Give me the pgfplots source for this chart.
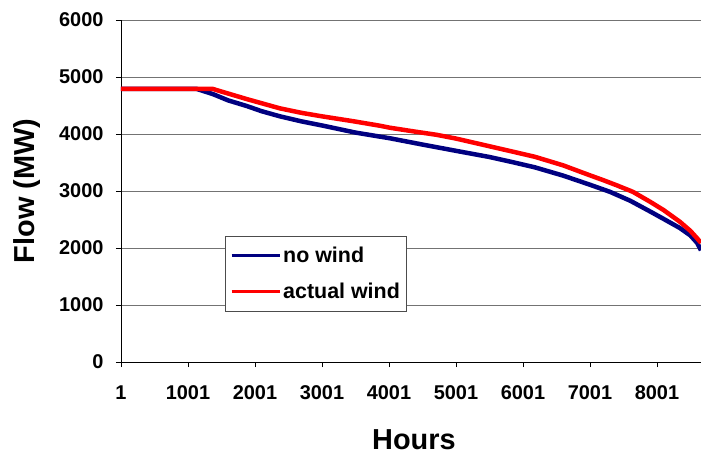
\documentclass[border=0pt]{standalone}
\usepackage{fontspec}
\setmainfont{Liberation Sans}
\usepackage{pgfplots}
\pgfplotsset{compat=1.18}
\definecolor{nowind}{RGB}{0,0,128}
\definecolor{actwind}{RGB}{255,0,0}
\begin{document}
\begin{tikzpicture}
\useasboundingbox (-121bp,-95bp) rectangle (580bp,362bp);
\begin{axis}[
  scale only axis,
  width=580bp, height=342bp,
  xmin=1, xmax=8658, ymin=0, ymax=6000,
  axis x line*=bottom, axis y line*=left,
  axis line style={black, line width=0.9bp},
  xtick={1,1001,2001,3001,4001,5001,6001,7001,8001},
  ytick={0,1000,...,6000},
  tick align=outside, major tick length=5bp,
  tick style={black, line width=0.8bp},
  ymajorgrids, grid style={black!55, line width=0.8bp},
  /pgf/number format/1000 sep={},
  /pgf/number format/assume math mode=true,
  ticklabel style={font=\fontsize{20}{22}\selectfont\bfseries},
  xticklabel style={yshift=-15bp},
  yticklabel style={xshift=-9bp},
  xlabel={Hours}, ylabel={Flow (MW)},
  label style={font=\fontsize{29}{33}\selectfont\bfseries},
  xlabel style={at={(axis description cs:0.505,-0.228)}, anchor=center},
  ylabel style={at={(axis description cs:-0.162,0.5)}, anchor=center},
  legend cell align=left,
  legend image code/.code={\draw[#1, line width=3bp] (0bp,0bp) -- (48bp,0bp);},
  legend style={at={(axis description cs:0.179,0.369)}, anchor=north west,
    draw=black!70, fill=white, line width=0.8bp,
    font=\fontsize{21.5}{24}\selectfont\bfseries,
    row sep=15bp, inner xsep=5bp, inner ysep=9bp},
]
\addplot[nowind, line width=4.5bp] coordinates {
(1,4790) (1134,4790) (1373,4700) (1600,4590) (1880,4490) (2100,4400) (2373,4310)
(2700,4220) (3000,4150) (3500,4025) (4015,3925) (4500,3815) (5000,3705)
(5507,3595) (5850,3505) (6179,3415) (6600,3270) (7000,3110) (7300,2985)
(7600,2830) (7900,2640) (8100,2510) (8343,2350) (8500,2220) (8600,2090) (8658,1960)};
\addlegendentry{no wind}
\addplot[actwind, line width=4.5bp] coordinates {
(1,4790) (1373,4790) (1500,4745) (1880,4612) (2373,4450) (2700,4370)
(3000,4310) (3463,4225) (3866,4145) (4015,4110) (4400,4040) (4716,3985)
(5000,3920) (5500,3785) (5850,3690) (6179,3600) (6600,3450) (7000,3275)
(7200,3190) (7400,3100) (7642,2985) (7900,2810) (8100,2665) (8343,2460)
(8500,2300) (8600,2170) (8658,2090)};
\addlegendentry{actual wind}
\end{axis}
\end{tikzpicture}
\end{document}
